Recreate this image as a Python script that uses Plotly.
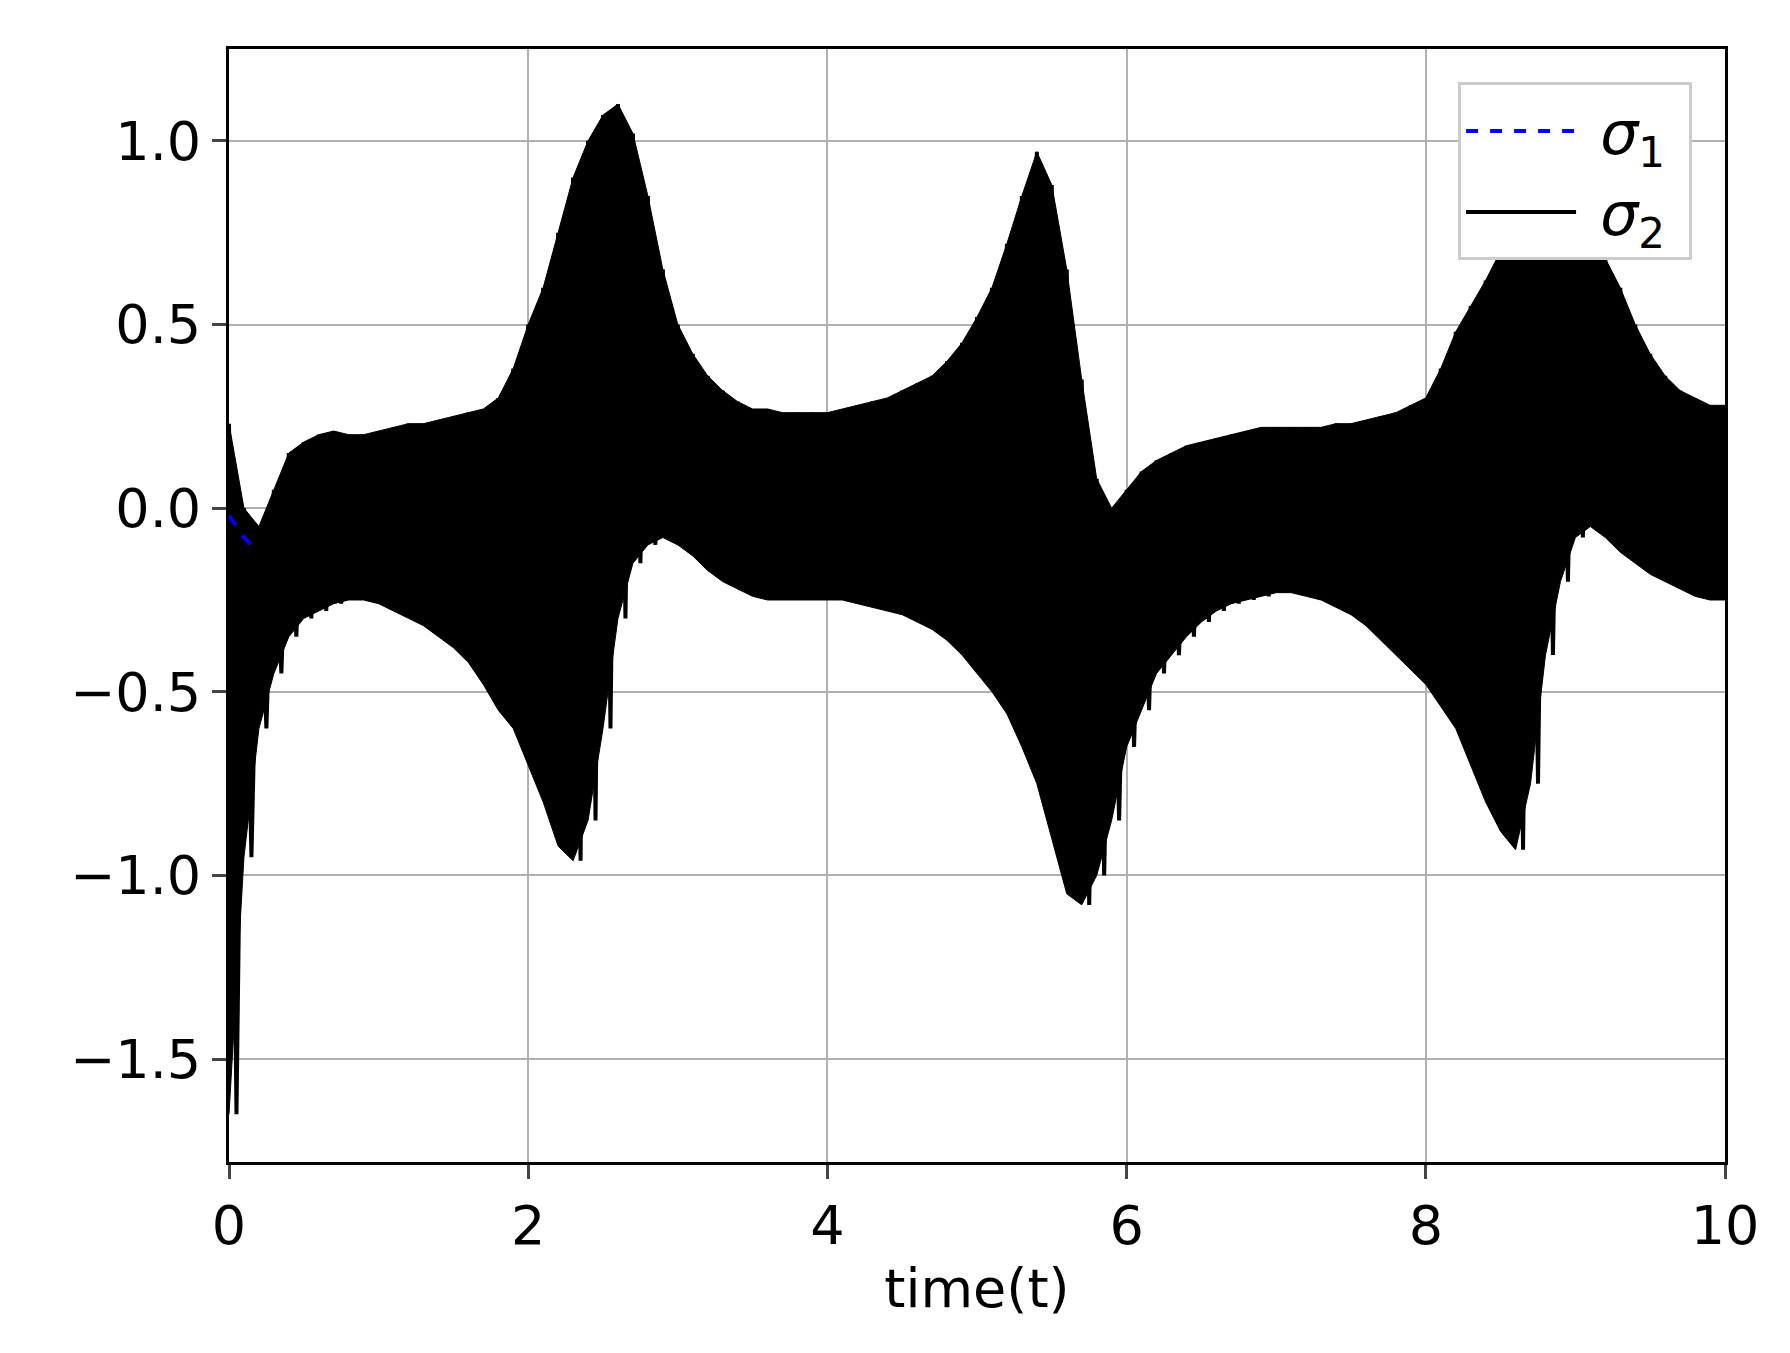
import plotly.graph_objects as go

t = [round(i * 0.1, 1) for i in range(101)]
sigma2_upper = [0.23,0.0,-0.05,0.05,0.15,0.18,0.2,0.21,0.2,0.2,
 0.21,0.22,0.23,0.23,0.24,0.25,0.26,0.27,0.3,0.38,
 0.5,0.6,0.75,0.9,1.0,1.07,1.1,1.02,0.85,0.65,
 0.5,0.42,0.36,0.32,0.29,0.27,0.27,0.26,0.26,0.26,
 0.26,0.27,0.28,0.29,0.3,0.32,0.34,0.36,0.4,0.45,
 0.52,0.6,0.72,0.85,0.97,0.88,0.65,0.35,0.08,0.0,
 0.05,0.1,0.13,0.15,0.17,0.18,0.19,0.2,0.21,0.22,
 0.22,0.22,0.22,0.22,0.23,0.23,0.24,0.25,0.26,0.28,
 0.3,0.38,0.48,0.55,0.62,0.7,0.75,0.78,0.8,0.8,
 0.78,0.75,0.68,0.6,0.5,0.42,0.36,0.32,0.3,0.28,0.28]
sigma2_lower = [-1.65,-0.95,-0.6,-0.45,-0.35,-0.3,-0.28,-0.26,-0.25,-0.25,
 -0.26,-0.28,-0.3,-0.32,-0.35,-0.38,-0.42,-0.48,-0.55,-0.6,
 -0.7,-0.8,-0.92,-0.96,-0.85,-0.6,-0.3,-0.15,-0.1,-0.08,
 -0.1,-0.13,-0.17,-0.2,-0.22,-0.24,-0.25,-0.25,-0.25,-0.25,
 -0.25,-0.25,-0.26,-0.27,-0.28,-0.29,-0.31,-0.33,-0.36,-0.4,
 -0.45,-0.5,-0.56,-0.65,-0.75,-0.9,-1.05,-1.08,-1.0,-0.85,
 -0.65,-0.55,-0.45,-0.4,-0.35,-0.31,-0.28,-0.26,-0.25,-0.24,
 -0.23,-0.23,-0.24,-0.25,-0.27,-0.29,-0.32,-0.36,-0.4,-0.44,
 -0.48,-0.54,-0.6,-0.7,-0.8,-0.88,-0.93,-0.75,-0.4,-0.2,
 -0.08,-0.05,-0.08,-0.12,-0.15,-0.18,-0.2,-0.22,-0.24,-0.25,-0.25]
sigma1_t = [0.0, 0.05, 0.1, 0.15, 0.2]
sigma1_y = [-0.02, -0.05, -0.08, -0.1, -0.12]

# zigzag between envelopes
zx, zy = [], []
for i in range(len(t)):
    zx.append(t[i]); zy.append(sigma2_upper[i])
    if i < len(t) - 1:
        zx.append(t[i] + 0.05); zy.append(sigma2_lower[i])
    else:
        zx.append(t[i]); zy.append(sigma2_lower[i])

fig = go.Figure()
fig.add_trace(go.Scatter(x=t + t[::-1], y=sigma2_upper + sigma2_lower[::-1], fill='toself',
                         fillcolor='black', line=dict(color='black', width=1), showlegend=False,
                         hoverinfo='skip'))
fig.add_trace(go.Scatter(x=zx, y=zy, mode='lines', name=' <i>σ</i><sub>2</sub> ', legendrank=2,
                         line=dict(color='black', width=4)))
fig.add_trace(go.Scatter(x=sigma1_t, y=sigma1_y, mode='lines', name=' <i>σ</i><sub>1</sub> ', legendrank=1,
                         line=dict(color='blue', width=4, dash='dash')))

font = dict(family='DejaVu Sans', size=54, color='black')
axis = dict(showgrid=True, gridcolor='#b0b0b0', gridwidth=2, showline=True, linecolor='black',
            linewidth=3, mirror=True, ticks='outside', ticklen=14, tickwidth=3, zeroline=False,
            tickfont=font)
fig.update_layout(
    width=1790, height=1353, paper_bgcolor='white', plot_bgcolor='white',
    margin=dict(l=221, r=73, t=41, b=199),
    font=font,
    xaxis=dict(axis, range=[0, 10], tickvals=[0, 2, 4, 6, 8, 10],
               title=dict(text='time(t)', font=font, standoff=14)),
    yaxis=dict(axis, range=[-1.78, 1.25], tickvals=[-1.5, -1.0, -0.5, 0.0, 0.5, 1.0],
               ticktext=['−1.5', '−1.0', '−0.5', '0.0', '0.5', '1.0']),
    legend=dict(x=0.978, y=0.97, xanchor='right', yanchor='top', bgcolor='white',
                bordercolor='#cccccc', borderwidth=3, itemwidth=110, tracegroupgap=10,
                traceorder='normal', font=dict(family='DejaVu Sans', size=60)),
)
fig.write_html('out.html')
